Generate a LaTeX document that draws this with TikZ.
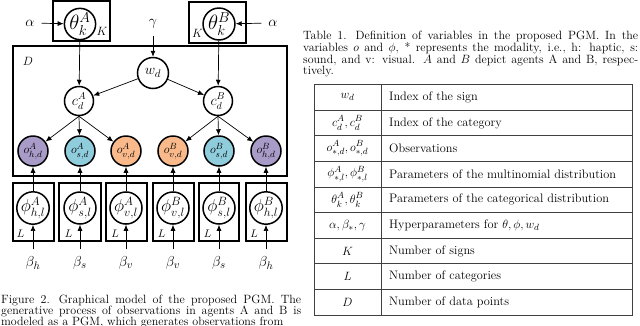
\documentclass[tikz,border=0pt]{standalone}
\usepackage{amsmath,amssymb}
\usepackage{tikz}
\usetikzlibrary{arrows.meta, positioning}

\definecolor{haptic}{HTML}{A99BC8}
\definecolor{sound}{HTML}{8FCCDC}
\definecolor{visual}{HTML}{F9B98A}

\begin{document}
\begin{tikzpicture}[
  x=1pt, y=-1pt,
  var_node/.style={circle, draw=black, line width=1.5pt, fill=white, minimum size=30pt, inner sep=0pt, font=\fontsize{13}{15}\selectfont},
  theta_node/.style={var_node, font=\fontsize{21}{23}\selectfont},
  sign_node/.style={var_node, minimum size=31pt, font=\fontsize{15}{17}\selectfont},
  cat_node/.style={var_node, minimum size=29pt, font=\fontsize{14}{16}\selectfont},
  phi_node/.style={var_node, minimum size=32pt, font=\fontsize{17}{19}\selectfont},
  plate_box/.style={draw=black, line width=1.6pt},
  plate_label/.style={font=\fontsize{13}{15}\selectfont, inner sep=0pt},
  small_label/.style={font=\fontsize{11}{13}\selectfont, inner sep=0pt},
  hyper_label/.style={font=\fontsize{15}{17}\selectfont, inner sep=2pt},
  arrow/.style={-{Latex[length=6pt,width=5pt]}, line width=0.7pt},
  hyper_arrow/.style={arrow, shorten <=5pt},
  caption_text/.style={font=\fontsize{12}{11.2}\selectfont, align=justify, inner sep=0pt, anchor=north west},
  table_text/.style={font=\fontsize{12.3}{14}\selectfont, inner sep=0pt},
  table_line/.style={draw=black!75, line width=0.9pt}
]
\useasboundingbox (0,0) rectangle (640,325);

% Plates
\draw[plate_box] (53,1) rectangle (110,41);
\draw[plate_box] (189,2) rectangle (246,43);
\draw[plate_box] (13,46) rectangle (287,176);
\draw[plate_box] (13,183) rectangle (54,241);
\draw[plate_box] (59,183) rectangle (101,241);
\draw[plate_box] (106,183) rectangle (147,241);
\draw[plate_box] (153,183) rectangle (194,241);
\draw[plate_box] (199,183) rectangle (239,241);
\draw[plate_box] (246,183) rectangle (287,241);

% Plate labels
\node[plate_label] (k_a) at (102,31.5) {$K$};
\node[plate_label] (k_b) at (197.5,33) {$K$};
\node[plate_label] (d_label) at (28,61) {$D$};
\node[small_label] (l_ha) at (20.5,233.5) {$L$};
\node[small_label] (l_sa) at (68.5,233.5) {$L$};
\node[small_label] (l_va) at (115,233.5) {$L$};
\node[small_label] (l_vb) at (161.5,233.5) {$L$};
\node[small_label] (l_sb) at (207.5,233.5) {$L$};
\node[small_label] (l_hb) at (254,233.5) {$L$};

% Hyperparameters
\node[hyper_label] (alpha_a) at (30,23) {$\alpha$};
\node[hyper_label] (alpha_b) at (273,23) {$\alpha$};
\node[hyper_label] (gamma) at (153,24) {$\gamma$};

% Sign and categories
\node[theta_node] (theta_a) at (80,24) {$\theta_k^A$};
\node[theta_node] (theta_b) at (219,24) {$\theta_k^B$};
\node[sign_node] (w_d) at (153,73) {$w_d$};
\node[cat_node] (c_a) at (79,101) {$c_d^A$};
\node[cat_node] (c_b) at (218,101) {$c_d^B$};

% Observations
\node[var_node, fill=haptic] (o_ha) at (33,151) {$o_{h,d}^A$};
\node[var_node, fill=sound] (o_sa) at (80,151) {$o_{s,d}^A$};
\node[var_node, fill=visual] (o_va) at (126,151) {$o_{v,d}^A$};
\node[var_node, fill=visual] (o_vb) at (173,151) {$o_{v,d}^B$};
\node[var_node, fill=sound] (o_sb) at (219,151) {$o_{s,d}^B$};
\node[var_node, fill=haptic] (o_hb) at (266,151) {$o_{h,d}^B$};

% Modality parameters
\node[phi_node] (phi_ha) at (33,208) {$\phi_{h,l}^A$};
\node[phi_node] (phi_sa) at (80,208) {$\phi_{s,l}^A$};
\node[phi_node] (phi_va) at (126,208) {$\phi_{v,l}^A$};
\node[phi_node] (phi_vb) at (173,208) {$\phi_{v,l}^B$};
\node[phi_node] (phi_sb) at (219,208) {$\phi_{s,l}^B$};
\node[phi_node] (phi_hb) at (266,208) {$\phi_{h,l}^B$};

\node[hyper_label] (beta_ha) at (33,263) {$\beta_h$};
\node[hyper_label] (beta_sa) at (80,263) {$\beta_s$};
\node[hyper_label] (beta_va) at (126,263) {$\beta_v$};
\node[hyper_label] (beta_vb) at (173,263) {$\beta_v$};
\node[hyper_label] (beta_sb) at (219,263) {$\beta_s$};
\node[hyper_label] (beta_hb) at (266,263) {$\beta_h$};

% Arrows
\draw[hyper_arrow] (alpha_a) -- (theta_a);
\draw[hyper_arrow] (alpha_b) -- (theta_b);
\draw[hyper_arrow] (gamma) -- (w_d);
\draw[arrow] (theta_a) -- (c_a);
\draw[arrow] (theta_b) -- (c_b);
\draw[arrow] (w_d) -- (c_a);
\draw[arrow] (w_d) -- (c_b);
\draw[arrow] (c_a.south) -- (o_ha);
\draw[arrow] (c_a.south) -- (o_sa);
\draw[arrow] (c_a.south) -- (o_va);
\draw[arrow] (c_b.south) -- (o_vb);
\draw[arrow] (c_b.south) -- (o_sb);
\draw[arrow] (c_b.south) -- (o_hb);
\draw[arrow] (phi_ha) -- (o_ha);
\draw[arrow] (phi_sa) -- (o_sa);
\draw[arrow] (phi_va) -- (o_va);
\draw[arrow] (phi_vb) -- (o_vb);
\draw[arrow] (phi_sb) -- (o_sb);
\draw[arrow] (phi_hb) -- (o_hb);
\draw[hyper_arrow] (beta_ha) -- (phi_ha);
\draw[hyper_arrow] (beta_sa) -- (phi_sa);
\draw[hyper_arrow] (beta_va) -- (phi_va);
\draw[hyper_arrow] (beta_vb) -- (phi_vb);
\draw[hyper_arrow] (beta_sb) -- (phi_sb);
\draw[hyper_arrow] (beta_hb) -- (phi_hb);

% Captions
\node[caption_text, text width=300pt] (fig_caption) at (1,294.5)
  {Figure 2.\hspace{9pt}Graphical model of the proposed PGM. The\linebreak
   generative process of observations in agents A and B is\linebreak
   modeled as a PGM, which generates observations from};
\node[caption_text, text width=335pt] (tab_caption) at (303,31)
  {Table 1.\hspace{9pt}Definition of variables in the proposed PGM. In the\linebreak
   variables $o$ and $\phi$, * represents the modality, i.e., h: haptic, s:\linebreak
   sound, and v: visual. $A$ and $B$ depict agents A and B, respec-\linebreak
   tively.};

% Table
\draw[table_line] (314,84.5) rectangle (632,315.2);
\draw[table_line] (381,84.5) -- (381,315.2);
\draw[table_line] (314,110.1) -- (632,110.1) (314,135.8) -- (632,135.8)
  (314,161.4) -- (632,161.4) (314,187.0) -- (632,187.0)
  (314,212.7) -- (632,212.7) (314,238.3) -- (632,238.3)
  (314,263.9) -- (632,263.9) (314,289.6) -- (632,289.6);

\node[table_text] (sym_w) at (347.5,97.3) {$w_d$};
\node[table_text] (sym_c) at (347.5,123.0) {$c_d^A, c_d^B$};
\node[table_text] (sym_o) at (347.5,148.6) {$o_{*,d}^A, o_{*,d}^B$};
\node[table_text] (sym_phi) at (347.5,174.2) {$\phi_{*,l}^A, \phi_{*,l}^B$};
\node[table_text] (sym_theta) at (347.5,199.9) {$\theta_k^A, \theta_k^B$};
\node[table_text] (sym_hyper) at (347.5,225.5) {$\alpha, \beta_*, \gamma$};
\node[table_text] (sym_k) at (347.5,251.1) {$K$};
\node[table_text] (sym_l) at (347.5,276.8) {$L$};
\node[table_text] (sym_d) at (347.5,302.4) {$D$};

\node[table_text, anchor=west] (desc_w) at (389,97.3) {Index of the sign};
\node[table_text, anchor=west] (desc_c) at (389,123.0) {Index of the category};
\node[table_text, anchor=west] (desc_o) at (389,148.6) {Observations};
\node[table_text, anchor=west] (desc_phi) at (389,174.2) {Parameters of the multinomial distribution};
\node[table_text, anchor=west] (desc_theta) at (389,199.9) {Parameters of the categorical distribution};
\node[table_text, anchor=west] (desc_hyper) at (389,225.5) {Hyperparameters for $\theta, \phi, w_d$};
\node[table_text, anchor=west] (desc_k) at (389,251.1) {Number of signs};
\node[table_text, anchor=west] (desc_l) at (389,276.8) {Number of categories};
\node[table_text, anchor=west] (desc_d) at (389,302.4) {Number of data points};

\end{tikzpicture}
\end{document}
